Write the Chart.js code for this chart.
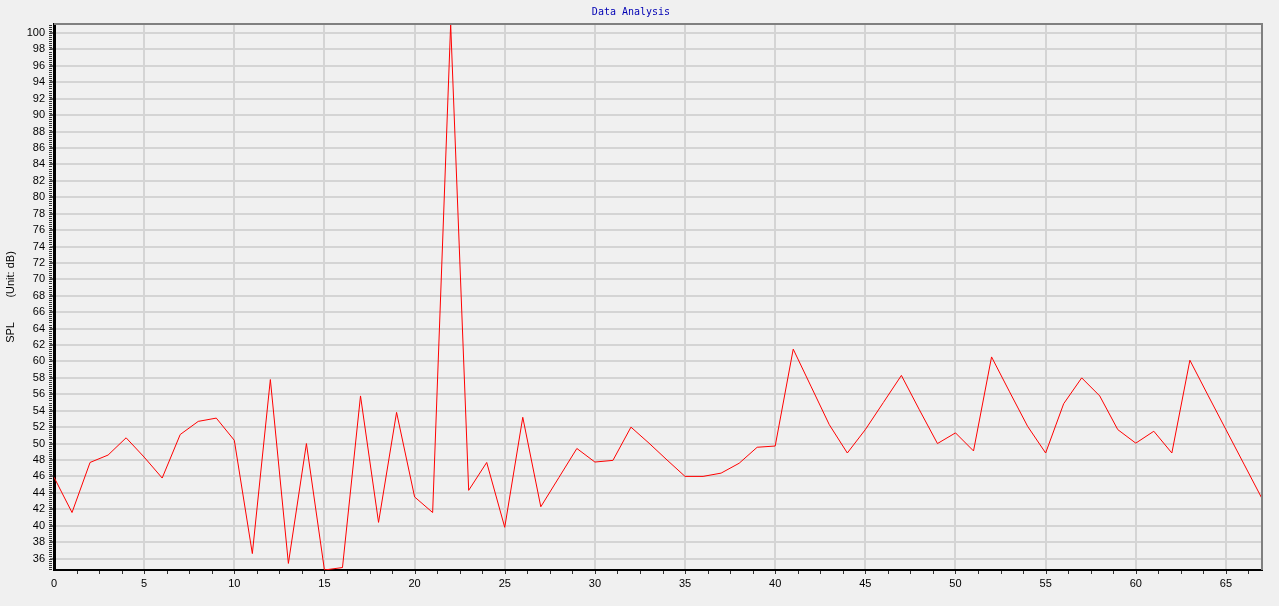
<!DOCTYPE html>
<html>
<head>
<meta charset="utf-8">
<title>Data Analysis</title>
<script src="https://cdn.jsdelivr.net/npm/chart.js@4/dist/chart.umd.min.js"></script>
<style>
  html, body { margin: 0; padding: 0; background: #f0f0f0; overflow: hidden; }
  #chart { display: block; }
</style>
</head>
<body>
<canvas id="chart" width="1279" height="606"></canvas>
<script>
/* data */
const freqIndex = Array.from({ length: 68 }, (_, i) => i);
const splValues = [
  45.9, 41.6, 47.7, 48.6, 50.7, 48.35, 45.8, 51.1, 52.7, 53.1,
  50.4, 36.6, 57.8, 35.4, 50.0, 34.6, 34.9, 55.8, 40.4, 53.8,
  43.5, 41.6, 101.1, 44.3, 47.7, 39.8, 53.2, 42.3, 45.85, 49.4,
  47.75, 47.95, 52.0, 50.05, 48.0, 46.0, 46.0, 46.4, 47.6, 49.55,
  49.7, 61.5, 56.9, 52.3, 48.85, 51.7, 55.0, 58.3, 54.1, 50.0,
  51.3, 49.1, 60.55, 56.3, 52.1, 48.85, 54.85, 58.0, 55.8, 51.7,
  50.05, 51.5, 48.85, 60.15, 55.9, 51.7, 47.5, 43.3
];
const xTickValues = [0, 5, 10, 15, 20, 25, 30, 35, 40, 45, 50, 55, 60, 65];
const yTickValues = [36, 38, 40, 42, 44, 46, 48, 50, 52, 54, 56, 58, 60, 62, 64, 66, 68,
  70, 72, 74, 76, 78, 80, 82, 84, 86, 88, 90, 92, 94, 96, 98, 100];
const xMinorStep = 1.25;
const yMinorStep = 0.25;

/* minor ticks + frame */
const framePlugin = {
  id: 'frame',
  afterDraw(chart) {
    const { ctx, chartArea: a, scales: { x, y } } = chart;
    ctx.save();
    // gray top / right border
    ctx.strokeStyle = '#808080';
    ctx.lineWidth = 2;
    ctx.beginPath();
    ctx.moveTo(a.left, a.top);
    ctx.lineTo(a.right, a.top);
    ctx.lineTo(a.right, a.bottom);
    ctx.stroke();

    // minor ticks
    ctx.strokeStyle = '#333';
    ctx.lineWidth = 1;
    ctx.beginPath();
    for (let v = Math.ceil(y.min / yMinorStep) * yMinorStep; v <= y.max; v += yMinorStep) {
      const py = Math.round(y.getPixelForValue(v)) + 0.5;
      ctx.moveTo(a.left - 5, py);
      ctx.lineTo(a.left - 2, py);
    }
    for (let v = xMinorStep; v <= x.max; v += xMinorStep) {
      const px = Math.round(x.getPixelForValue(v)) + 0.5;
      ctx.moveTo(px, a.bottom + 1);
      ctx.lineTo(px, a.bottom + 4);
    }
    ctx.stroke();
    ctx.restore();
  }
};

const splChart = new Chart(document.getElementById('chart').getContext('2d'), {
  type: 'line',
  data: {
    datasets: [{
      label: 'SPL',
      data: freqIndex.map((f, i) => ({ x: f, y: splValues[i] })),
      borderColor: '#ff0000',
      borderWidth: 1,
      pointRadius: 0,
      tension: 0,
      fill: false
    }]
  },
  options: {
    responsive: false,
    devicePixelRatio: 1,
    animation: false,
    layout: { padding: { left: 0, right: 17, top: 0, bottom: 0 } },
    plugins: {
      legend: { display: false },
      tooltip: { enabled: false },
      title: {
        display: true,
        text: 'Data Analysis',
        color: '#0000b4',
        font: { family: '"DejaVu Sans Mono", monospace', size: 10, weight: 'normal', lineHeight: 1.2 },
        padding: { top: 6, bottom: 6 }
      }
    },
    scales: {
      x: {
        type: 'linear',
        min: 0,
        max: freqIndex[freqIndex.length - 1],
        afterBuildTicks: scale => { scale.ticks = xTickValues.map(v => ({ value: v })); },
        afterFit: scale => { scale.height = 36; },
        border: { color: '#000', width: 2 },
        grid: { color: '#d4d4d4', lineWidth: 2, drawTicks: false },
        ticks: {
          color: '#000',
          padding: 7,
          font: { family: 'Arial, "Liberation Sans", sans-serif', size: 11 },
          maxRotation: 0,
          autoSkip: false
        }
      },
      y: {
        min: Math.min(...splValues),
        max: Math.max(...splValues),
        afterBuildTicks: scale => { scale.ticks = yTickValues.map(v => ({ value: v })); },
        afterFit: scale => { scale.width = 54; },
        border: { color: '#000', width: 3 },
        grid: { color: '#d4d4d4', lineWidth: 2, tickColor: '#000', tickLength: 4, tickWidth: 1 },
        ticks: {
          color: '#000',
          padding: 5,
          font: { family: 'Arial, "Liberation Sans", sans-serif', size: 11 },
          autoSkip: false
        },
        title: {
          display: true,
          text: 'SPL\u00a0\u00a0\u00a0\u00a0\u00a0\u00a0\u00a0\u00a0(Unit: dB)',
          color: '#000',
          font: { family: 'Arial, "Liberation Sans", sans-serif', size: 11 },
          padding: { top: 4, bottom: 0 }
        }
      }
    }
  },
  plugins: [framePlugin]
});
</script>
</body>
</html>
